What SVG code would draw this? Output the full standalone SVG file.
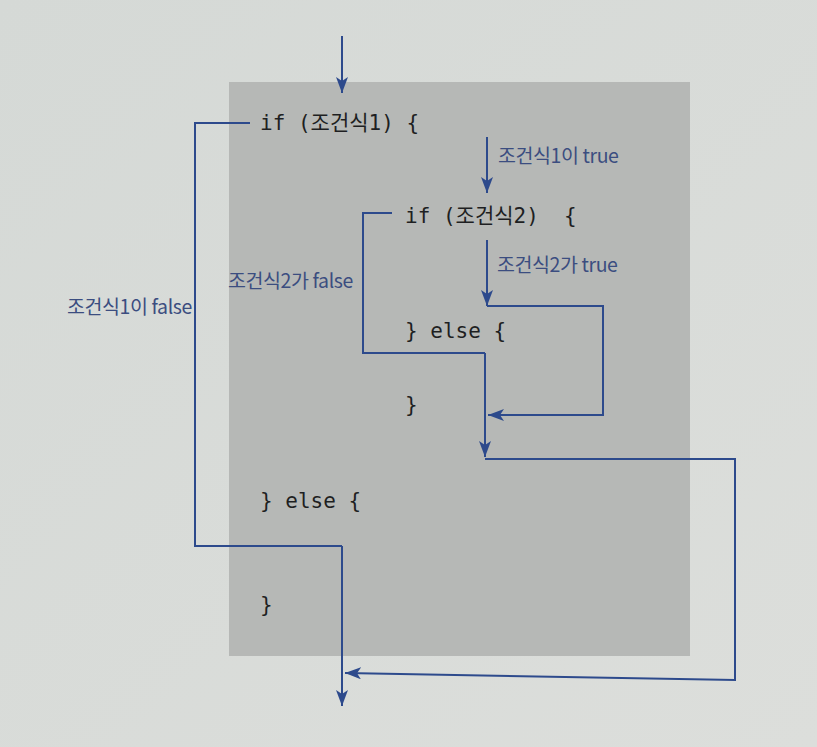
<svg xmlns="http://www.w3.org/2000/svg" width="817" height="747" viewBox="0 0 817 747">
<defs>
<marker id="ah" markerUnits="userSpaceOnUse" markerWidth="18" markerHeight="12" refX="16" refY="6" orient="auto">
<path d="M0,0 L16,6 L0,12 L4,6 Z" fill="#2d4a8c"/>
</marker>
<linearGradient id="bg" x1="0" y1="0" x2="1" y2="1">
<stop offset="0" stop-color="#d5d9d6"/>
<stop offset="1" stop-color="#dcdedb"/>
</linearGradient>
</defs>
<style>
.code{font-family:"DejaVu Sans Mono","Noto Sans CJK KR",monospace;font-size:21px;fill:#1e1f22;white-space:pre}
.lbl{font-family:"Noto Sans CJK KR","Noto Sans",sans-serif;font-size:19.5px;fill:#3b4d80;letter-spacing:-0.4px}
.ln{fill:none;stroke:#2d4a8c;stroke-width:2}
.arr{fill:none;stroke:#2d4a8c;stroke-width:2;marker-end:url(#ah)}
</style>
<rect width="817" height="747" fill="url(#bg)"/>
<rect id="box" x="229" y="82" width="461" height="574" fill="#b6b8b6"/>

<g id="connectors">
<path class="arr" d="M342,36 L342,93"/>
<path class="ln" d="M250,123 L195,123 L195,546 L342,546"/>
<path class="arr" d="M342,546 L342,706"/>
<path class="arr" d="M487,137 L487,193"/>
<path class="ln" d="M392,213 L363,213 L363,353 L485,353"/>
<path class="arr" d="M487,240 L487,306"/>
<path class="arr" d="M487,306 L603,306 L603,415 L488,415"/>
<path class="arr" d="M485,353 L485,457"/>
<path class="arr" d="M485,459 L735,459 L735,680 L345,673"/>
</g>

<g id="if1"><text class="code" x="260" y="130">if (조건식1) {</text></g>
<g id="if2"><text class="code" x="405" y="223" xml:space="preserve">if (조건식2)  {</text></g>
<g id="else2"><text class="code" x="405" y="338">} else {</text></g>
<g id="close2"><text class="code" x="405" y="412">}</text></g>
<g id="else1"><text class="code" x="260" y="508">} else {</text></g>
<g id="close1"><text class="code" x="260" y="612">}</text></g>

<g id="label-c1-true"><text class="lbl" x="498" y="163">조건식1이 true</text></g>
<g id="label-c2-true"><text class="lbl" x="497" y="272">조건식2가 true</text></g>
<g id="label-c2-false"><text class="lbl" x="228" y="288">조건식2가 false</text></g>
<g id="label-c1-false"><text class="lbl" x="67" y="314">조건식1이 false</text></g>
</svg>
